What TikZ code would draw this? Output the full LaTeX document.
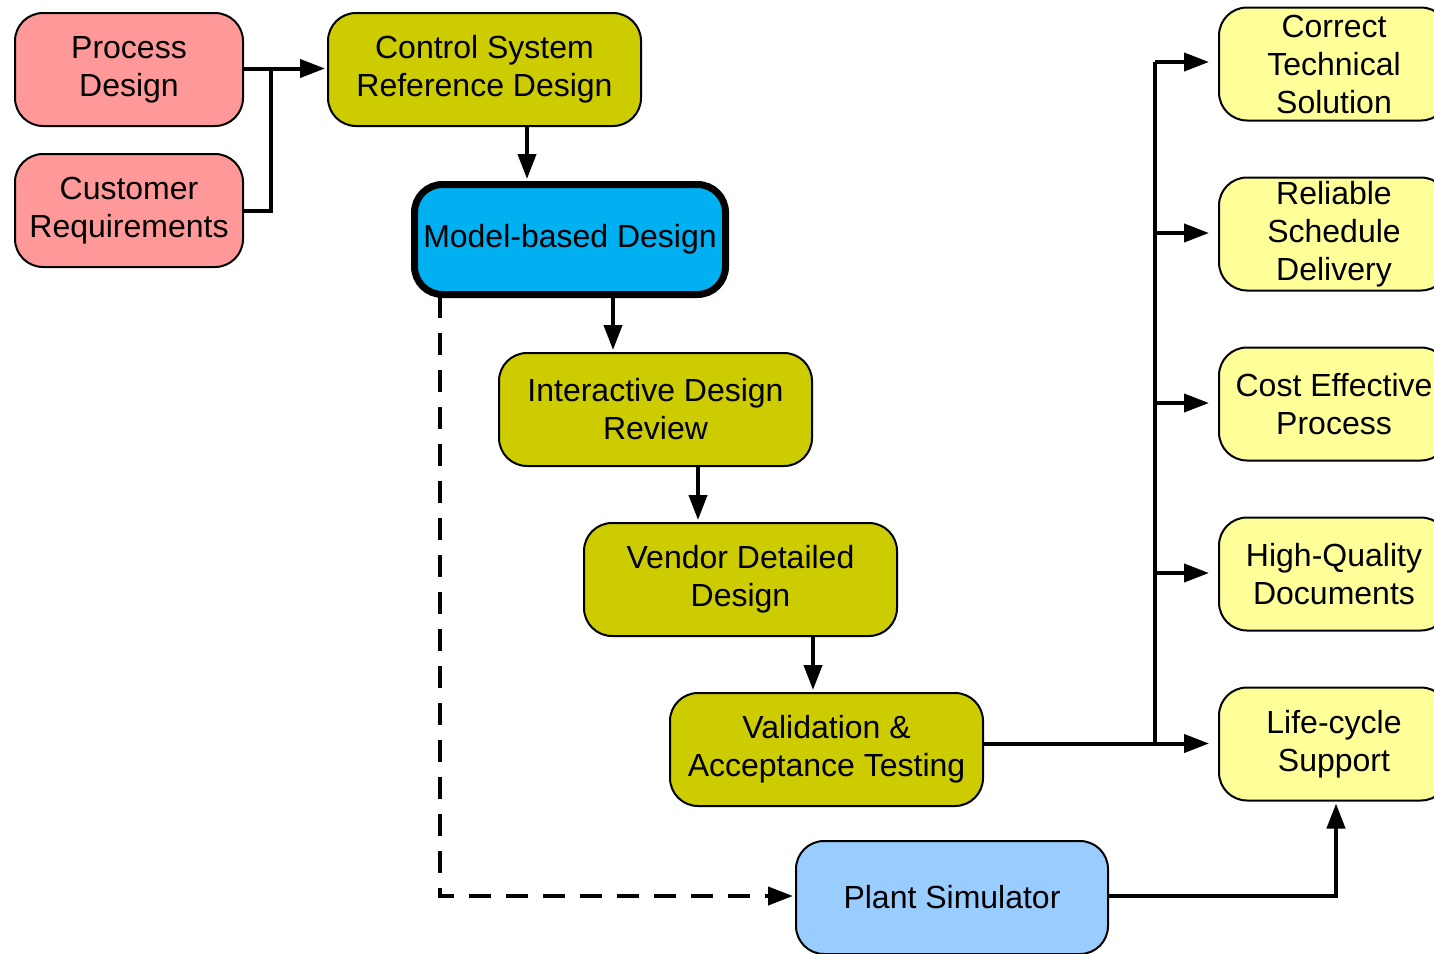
\documentclass[tikz,border=0pt]{standalone}
\usepackage{fontspec}
\setmainfont{Liberation Sans}
\usetikzlibrary{arrows.meta}
\definecolor{pinkfill}{HTML}{FF9999}
\definecolor{olivefill}{HTML}{CCCC00}
\definecolor{bluefill}{HTML}{00B0F0}
\definecolor{skyfill}{HTML}{99CCFF}
\definecolor{goalfill}{HTML}{FFFF99}
\tikzset{
  box/.style={draw=black, line width=2pt, rounded corners=28pt, align=center,
    inner sep=0pt, minimum height=113pt, minimum width=313pt,
    font=\fontsize{32}{38}\selectfont},
  inbox/.style={box, fill=pinkfill, minimum width=228pt},
  stagebox/.style={box, fill=olivefill},
  keybox/.style={box, fill=bluefill, line width=7pt, minimum width=311pt, minimum height=110pt},
  simbox/.style={box, fill=skyfill, minimum width=312pt},
  goalbox/.style={box, fill=goalfill, minimum width=230pt},
  link/.style={line width=4pt},
  arr/.style={link, -{Triangle[length=25pt,width=18pt]}, shorten >=2pt},
  goalarr/.style={arr, shorten >=9pt},
  dasharr/.style={arr, dash pattern=on 22pt off 15pt}
}
\begin{document}
\begin{tikzpicture}[x=1pt, y=-1pt]
\useasboundingbox (0,0) rectangle (1434,953);

% inputs
\node[inbox] (pd) at (129,69.5) {Process\\Design};
\node[inbox] (cr) at (129,210.5) {Customer\\Requirements};

% design chain
\node[stagebox] (cs) at (484.5,69.5) {Control System\\Reference Design};
\node[keybox] (mb) at (570,239.5) {Model-based Design};
\node[stagebox] (idr) at (655.5,409.5) {Interactive Design\\Review};
\node[stagebox] (vdd) at (740.5,579.5) {Vendor Detailed\\Design};
\node[stagebox] (vat) at (826.5,749.5) {Validation \&\\Acceptance Testing};
\node[simbox] (ps) at (952,897.5) {Plant Simulator};

% outcomes
\node[goalbox] (g1) at (1334,64) {Correct\\Technical\\Solution};
\node[goalbox] (g2) at (1334,234) {Reliable\\Schedule\\Delivery};
\node[goalbox] (g3) at (1334,404) {Cost Effective\\Process};
\node[goalbox] (g4) at (1334,574) {High-Quality\\Documents};
\node[goalbox] (g5) at (1334,744) {Life-cycle\\Support};

% merge of the two inputs
\coordinate (jin) at (271,68.5);
\draw[link] (cr.east) -| (jin);
\draw[arr] (pd.east |- jin) -- (cs.west |- jin);

% vertical steps
\draw[arr] (cs.south -| 527,0) -- (mb.north -| 527,0);
\draw[arr] (mb.south -| 613,0) -- (idr.north -| 613,0);
\draw[arr] (idr.south -| 698,0) -- (vdd.north -| 698,0);
\draw[arr] (vdd.south -| 813,0) -- (vat.north -| 813,0);

% fan-out to outcomes
\coordinate (trunk) at (1155,743.5);
\draw[goalarr] (vat.east |- trunk) -- (g5.west |- trunk);
\draw[link] (trunk) -- (1155,62);
\foreach \g/\yy in {g1/62,g2/233,g3/403,g4/573}
  \draw[goalarr] (1155,\yy) -- (\g.west |- 0,\yy);

% simulator path
\coordinate (dtop) at (440,296);
\draw[dasharr] (dtop) |- (ps.west |- 0,896);
\draw[arr] (ps.east |- 0,896) -| (g5.south -| 1336,0);
\end{tikzpicture}
\end{document}
